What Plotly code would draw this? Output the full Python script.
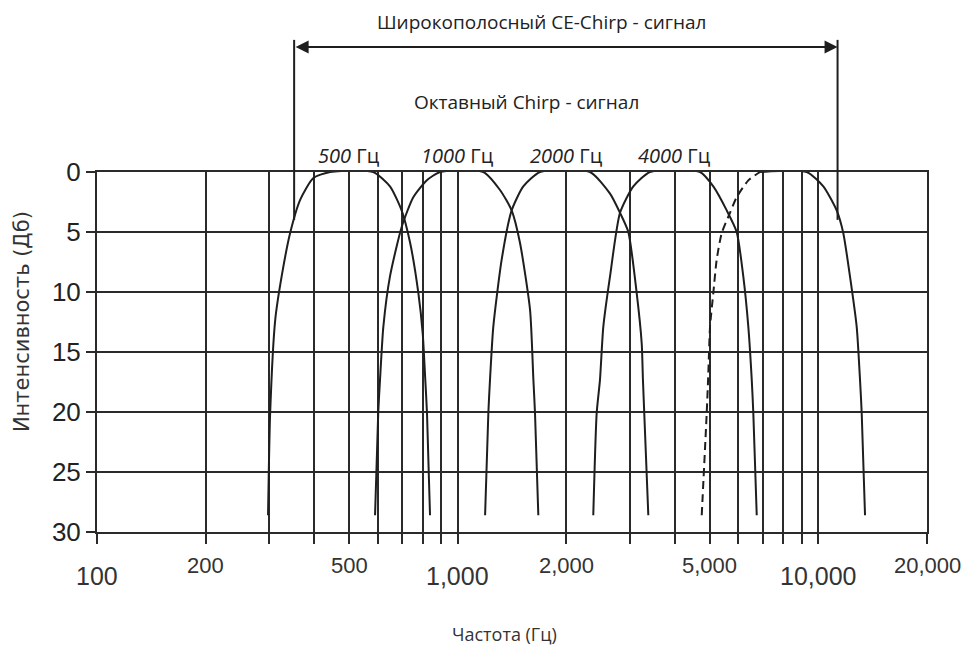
import math
import plotly.graph_objects as go

# Octave-band chirp responses: frequency (Hz) and attenuation (dB)
f_500 = [298, 302, 312, 325, 343, 366, 398, 443, 583, 649, 699, 738, 778, 800, 812, 822, 838]
db_500 = [28.6, 20.1, 12.3, 8.7, 5.1, 2.3, 0.5, 0, 0, 1.2, 3.2, 5.9, 10.1, 13.5, 17.0, 20.1, 28.6]

f_1000 = [590, 602, 609, 622, 649, 699, 753, 820, 894, 1178, 1310, 1411, 1488, 1587, 1621, 1638, 1673]
db_1000 = [28.6, 20.1, 17.3, 12.9, 8.7, 4.6, 2.1, 0.7, 0, 0, 1.5, 3.2, 5.9, 11.5, 17.3, 20.1, 28.6]

f_2000 = [1191, 1216, 1229, 1255, 1324, 1411, 1520, 1691, 2327, 2644, 2818, 2972, 3135, 3237, 3262, 3290, 3376]
db_2000 = [28.6, 20.1, 17.3, 12.9, 7.3, 3.2, 1.2, 0, 0, 1.8, 3.4, 5.0, 10.1, 14.3, 17.3, 20.1, 28.6]

f_4000 = [2376, 2428, 2480, 2533, 2644, 2818, 3068, 3413, 4697, 5112, 5569, 5935, 6191, 6393, 6533, 6600, 6745]
db_4000 = [28.6, 20.1, 17.3, 12.9, 8.7, 3.4, 1.2, 0, 0, 1.2, 3.2, 5.0, 8.7, 12.9, 17.3, 20.1, 28.6]

# Upper band: rising slope (dashed) and falling slope (solid)
f_hi_rise = [4748, 4901, 4952, 5006, 5112, 5224, 5394, 5687, 5935, 6393, 6889]
db_hi_rise = [28.6, 20.1, 16.8, 12.9, 10.1, 7.3, 5.1, 3.4, 2.1, 0.7, 0]

f_hi_fall = [6889, 9282, 10318, 11236, 11722, 12232, 12768, 13041, 13183, 13466]
db_hi_fall = [0, 0, 1.2, 3.2, 5.1, 8.7, 12.9, 17.3, 20.1, 28.6]

# Broadband CE-Chirp span (Hz)
ce_low, ce_high = 352, 11300

band_centers = [500, 1000, 2000, 4000]

grid_x = [100, 200, 300, 400, 500, 600, 700, 800, 900, 1000,
          2000, 3000, 4000, 5000, 6000, 7000, 8000, 9000, 10000, 20000]
x_label_vals = [100, 200, 500, 1000, 2000, 5000, 10000, 20000]
x_label_text = ["100", "200", "500", "1,000", "2,000", "5,000", "10,000", "20,000"]
x_label_low = [True, False, False, True, False, False, True, False]
y_ticks = [0, 5, 10, 15, 20, 25, 30]

INK = "#1e1e1e"
GRID = "#2a2a2a"
TXT = "Open Sans"
NUM = "Liberation Sans"

fig = go.Figure()

for fx, dy in [(f_500, db_500), (f_1000, db_1000), (f_2000, db_2000),
               (f_4000, db_4000), (f_hi_fall, db_hi_fall)]:
    fig.add_trace(go.Scatter(x=fx, y=dy, mode="lines",
                             line=dict(color=INK, width=2, shape="spline", smoothing=0.6),
                             showlegend=False, hoverinfo="skip"))

fig.add_trace(go.Scatter(x=f_hi_rise, y=db_hi_rise, mode="lines",
                         line=dict(color=INK, width=2, dash="8px,5px", shape="spline", smoothing=0.6),
                         showlegend=False, hoverinfo="skip"))

# Bracket marking the broadband CE-Chirp span
for f in (ce_low, ce_high):
    fig.add_shape(type="line", xref="x", yref="paper",
                  x0=f, x1=f, y0=0.867, y1=1.367,
                  line=dict(color=INK, width=2))

annotations = [
    dict(xref="x", yref="paper", x=math.log10(ce_high), y=1.347,
         axref="x", ayref="pixel", ax=math.log10(ce_low), ay=0,
         text="", showarrow=True, arrowside="end+start", arrowhead=2,
         arrowsize=1.3, arrowwidth=2, arrowcolor=INK, standoff=0, startstandoff=0),
    dict(xref="paper", yref="paper", x=0.536, y=1.4167,
         xanchor="center", yanchor="middle", showarrow=False,
         text="Широкополосный CE-Chirp - сигнал",
         font=dict(family=TXT, size=19, color="#222")),
    dict(xref="paper", yref="paper", x=0.518, y=1.194,
         xanchor="center", yanchor="middle", showarrow=False,
         text="Октавный Chirp - сигнал",
         font=dict(family=TXT, size=19, color="#222")),
    dict(xref="paper", yref="paper", x=0.491, y=-0.283,
         xanchor="center", yanchor="middle", showarrow=False,
         text="Частота (Гц)",
         font=dict(family=TXT, size=18, color="#333")),
    dict(xref="paper", yref="paper", x=0, xshift=-75, y=0.583,
         xanchor="center", yanchor="middle", showarrow=False,
         text="Интенсивность (Дб)", textangle=-90,
         font=dict(family="DejaVu Sans", size=21, color="#333")),
]

for c in band_centers:
    annotations.append(dict(xref="x", yref="paper", x=math.log10(c), y=1.047,
                            xanchor="center", yanchor="middle",
                            showarrow=False, text=f"<i>{c}</i> Гц",
                            font=dict(family=TXT, size=20, color="#222")))

for v, t, low in zip(x_label_vals, x_label_text, x_label_low):
    annotations.append(dict(xref="x", yref="paper", x=math.log10(v), y=0,
                            xanchor="center", yanchor="middle",
                            yshift=-44 if low else -33,
                            showarrow=False, text=t,
                            font=dict(family=NUM, size=25 if low else 22, color="#333")))

fig.update_layout(
    width=963, height=648,
    margin=dict(l=97, r=36, t=172, b=116),
    paper_bgcolor="white", plot_bgcolor="white",
    annotations=annotations,
    xaxis=dict(type="log", range=[2, math.log10(20000)],
               tickvals=grid_x, showticklabels=False,
               ticks="outside", ticklen=10, tickwidth=2, tickcolor=GRID,
               showgrid=True, gridcolor=GRID, gridwidth=2,
               showline=True, linecolor=GRID, linewidth=2, mirror=True,
               zeroline=False),
    yaxis=dict(range=[30, 0], tickvals=y_ticks,
               ticks="outside", ticklen=9, tickwidth=2, tickcolor=GRID,
               tickfont=dict(family=NUM, size=26, color="#222"),
               showgrid=True, gridcolor=GRID, gridwidth=2,
               showline=True, linecolor=GRID, linewidth=2, mirror=True,
               zeroline=False),
)

fig.write_html("out.html")
